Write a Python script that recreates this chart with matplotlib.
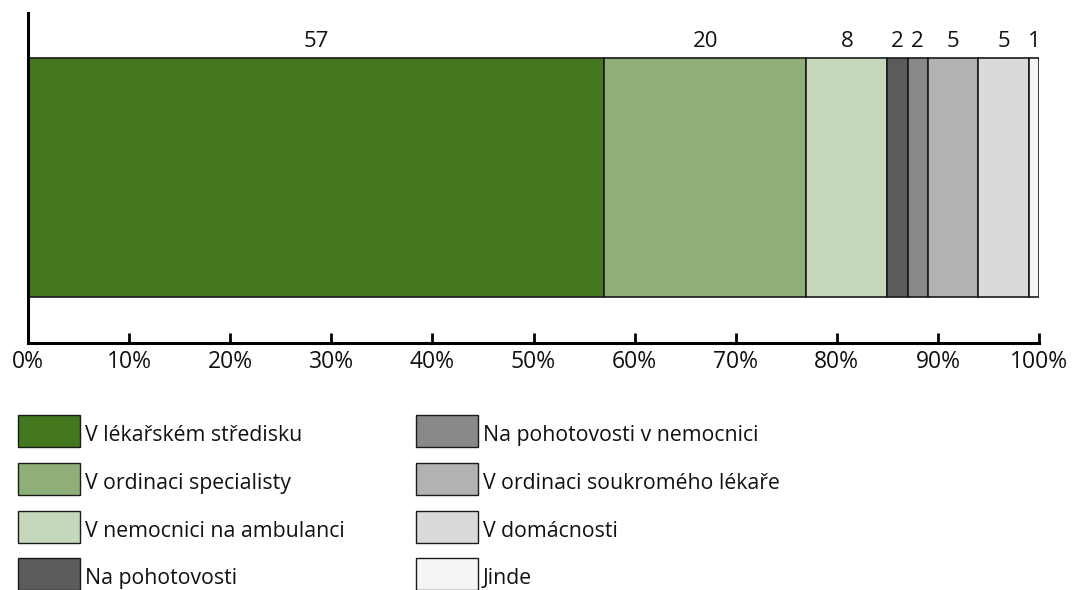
import matplotlib
matplotlib.use("Agg")
import matplotlib.pyplot as plt
from matplotlib.patches import Rectangle

categories = ["V lékařském středisku", "V ordinaci specialisty", "V nemocnici na ambulanci",
              "Na pohotovosti", "Na pohotovosti v nemocnici", "V ordinaci soukromého lékaře",
              "V domácnosti", "Jinde"]
values = [57, 20, 8, 2, 2, 5, 5, 1]
colors = ["#44781E", "#8FAF78", "#C6D8BC", "#5B5B5D", "#88898B", "#B1B2B4", "#D9DADC", "#F5F5F5"]
xticks = [0, 10, 20, 30, 40, 50, 60, 70, 80, 90, 100]
xticklabels = [f"{t}%" for t in xticks]

plt.rcParams['font.family'] = ['Open Sans', 'DejaVu Sans']
fig = plt.figure(figsize=(10.74, 5.9), dpi=100)
ax = fig.add_axes([28/1074, 1-343/590, 1011/1074, 330/590])

left = 0
for v, c in zip(values, colors):
    ax.barh(0.5015, v, left=left, height=0.724, color=c, edgecolor="#1a1a1a", linewidth=1.2)
    ax.text(left + v/2, 0.915, str(v), ha="center", va="center", fontsize=16, color="#111111")
    left += v

ax.set_xlim(0, 100)
ax.set_ylim(0, 1)
ax.set_xticks(xticks)
ax.set_xticklabels(xticklabels, fontsize=16.5, color="#111111")
ax.tick_params(axis="x", direction="in", length=7, width=2, pad=5)
ax.set_yticks([])
for s in ["top", "right"]:
    ax.spines[s].set_visible(False)
ax.spines["bottom"].set_linewidth(2.2)
ax.spines["left"].set_linewidth(2.2)

# legend (two columns, manual layout)
col_x = [18, 416]
row_y = [431, 479, 527, 574]
pw, ph = 62, 32
for i, (lab, c) in enumerate(zip(categories, colors)):
    col, row = divmod(i, 4)
    x0 = col_x[col]
    yc = row_y[row]
    fig.add_artist(Rectangle((x0/1074, 1-(yc+ph/2)/590), pw/1074, ph/590,
                             transform=fig.transFigure, facecolor=c,
                             edgecolor="#1a1a1a", linewidth=1.0))
    fig.text((x0+pw+5)/1074, 1-(yc+10)/590, lab, ha="left", va="baseline",
             fontsize=15.3, color="#111111")

fig.savefig("out.png", dpi=100)
